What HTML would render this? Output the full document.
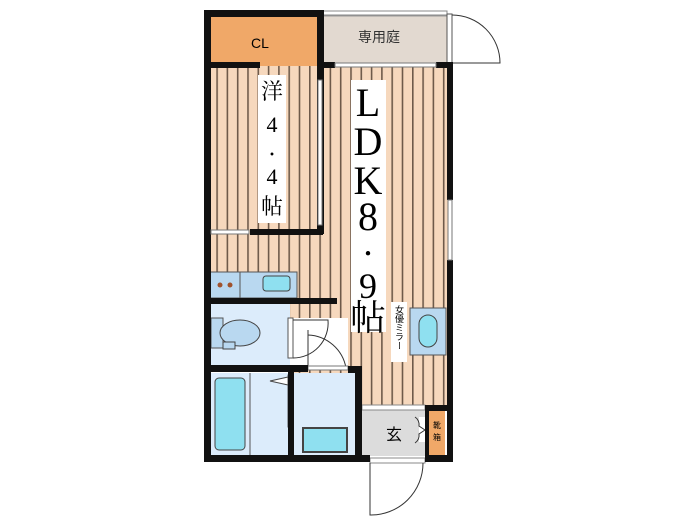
<!DOCTYPE html>
<html><head><meta charset="utf-8"><style>
html,body{margin:0;padding:0;background:#fff;width:700px;height:525px;overflow:hidden}
svg{display:block}
text{font-family:"Liberation Serif","Noto Serif CJK SC",serif}
</style></head><body>
<svg width="700" height="525" viewBox="0 0 700 525" xmlns="http://www.w3.org/2000/svg">
<defs>
<pattern id="fl" x="0" y="0" width="10.3" height="20" patternUnits="userSpaceOnUse">
<rect width="10.3" height="20" fill="#f6d8bd"/>
<rect x="0" width="1.6" height="20" fill="#6e5a4a"/>
</pattern>
</defs>
<rect x="210" y="66" width="240" height="240" fill="url(#fl)"/>
<rect x="288" y="300" width="160" height="110" fill="url(#fl)"/>
<rect x="210" y="16" width="108" height="50" fill="#f0a868"/>
<text x="260" y="48" font-size="14" text-anchor="middle" style="font-family:'Liberation Sans',sans-serif">CL</text>
<rect x="323" y="16" width="124" height="48" fill="#e2d9d0" stroke="#999" stroke-width="1"/>
<rect x="323" y="11" width="124" height="4" fill="#fff" stroke="#888" stroke-width="1"/>
<text x="379" y="42" font-size="14" text-anchor="middle" fill="#333" style="font-family:'Liberation Sans','Noto Sans CJK JP',sans-serif">専用庭</text>
<rect x="447" y="14" width="5" height="50" fill="#fff" stroke="#555"/>
<path d="M452 15 A48 48 0 0 1 500 63 L452 63" fill="none" stroke="#333" stroke-width="1"/>
<rect x="210" y="272" width="87" height="26" fill="#b9d8f0" stroke="#555" stroke-width="1"/>
<line x1="240" y1="272" x2="240" y2="298" stroke="#555"/>
<circle cx="220" cy="285" r="2.5" fill="#a0522d"/><circle cx="230" cy="285" r="2.5" fill="#a0522d"/>
<rect x="263" y="276" width="27" height="15" rx="3" fill="#8fe0f0" stroke="#444"/>
<rect x="210" y="304" width="80" height="62" fill="#dcecfb"/>
<rect x="211" y="318" width="12" height="30" fill="#b9d8f0" stroke="#555"/>
<ellipse cx="240" cy="333" rx="20" ry="13" fill="#b9d8f0" stroke="#444"/>
<rect x="223" y="342" width="12" height="7" fill="#b9d8f0" stroke="#444"/>
<rect x="290" y="318" width="58" height="52" fill="#fff"/>
<rect x="288" y="318" width="5" height="40" fill="#fff" stroke="#555"/>
<path d="M293 320 L328 320 A35 35 0 0 1 293 358" fill="none" stroke="#333"/>
<line x1="308" y1="330" x2="308" y2="368" stroke="#333"/>
<path d="M308 335 A40 40 0 0 1 346 368" fill="none" stroke="#333"/>
<rect x="308" y="366" width="40" height="4" fill="#fff" stroke="#777"/>
<rect x="210" y="373" width="78" height="82" fill="#dcecfb"/>
<line x1="250" y1="373" x2="250" y2="455" stroke="#555"/>
<rect x="215" y="378" width="30" height="72" rx="4" fill="#8fe0f0" stroke="#444"/>
<path d="M288 377 L270 381 L288 385 Z" fill="#fff" stroke="#444"/>
<rect x="288" y="375" width="5" height="52" fill="#fff" stroke="#555"/>
<rect x="294" y="373" width="62" height="82" fill="#dcecfb"/>
<rect x="303" y="428" width="44" height="24" fill="#8fe0f0" stroke="#444" stroke-width="2"/>
<rect x="362" y="410" width="63" height="46" fill="#dcdcdc"/>
<rect x="362" y="405" width="63" height="5" fill="#fff" stroke="#888"/>
<text x="394" y="440" font-size="16" text-anchor="middle" style="font-family:'Liberation Sans','Noto Sans CJK JP',sans-serif">玄</text>
<rect x="419" y="417" width="6" height="25" fill="#fff"/>
<path d="M415 417 A9 9 0 0 1 419 426 L425 430 M415 443 A9 9 0 0 0 419 434 L425 430" fill="none" stroke="#333"/>
<rect x="429" y="410" width="16" height="45" fill="#f0a868"/>
<text x="437" y="428" font-size="8" text-anchor="middle" style="font-family:'Liberation Sans','Noto Sans CJK JP',sans-serif">靴</text>
<text x="437" y="440" font-size="8" text-anchor="middle" style="font-family:'Liberation Sans','Noto Sans CJK JP',sans-serif">箱</text>
<rect x="370" y="458" width="55" height="5" fill="#fff" stroke="#888"/>
<path d="M370 463 L370 515 A52 52 0 0 0 423 463" fill="none" stroke="#333"/>
<rect x="410" y="308" width="36" height="47" fill="#b9d8f0" stroke="#555"/>
<rect x="419" y="315" width="18" height="32" rx="9" fill="#8fe0f0" stroke="#444"/>
<rect x="391" y="302" width="16" height="60" fill="#fff"/>
<text font-size="9" style="font-family:'Liberation Sans','Noto Sans CJK JP',sans-serif" writing-mode="tb" x="399" y="305">女優ミラー</text>
<rect x="258" y="75" width="28" height="148" fill="#fff"/>
<g font-size="22" text-anchor="middle">
<text x="272" y="99">洋</text><text x="272" y="132">4</text><text x="272" y="160" font-size="16">・</text><text x="272" y="184">4</text><text x="272" y="214">帖</text>
</g>
<rect x="351" y="80" width="35" height="252" fill="#fff"/>
<g font-size="40" text-anchor="middle">
<text x="368" y="116">L</text><text x="368" y="155">D</text><text x="368" y="194">K</text><text x="368" y="230">8</text>
</g>
<text x="368" y="262" font-size="24" text-anchor="middle">・</text>
<g font-size="36" text-anchor="middle">
<text x="368" y="298">9</text><text x="368" y="330">帖</text>
</g>
<g fill="#111">
<rect x="204" y="10" width="120" height="7"/>
<rect x="204" y="10" width="7" height="452"/>
<rect x="317" y="10" width="7" height="224"/>
<rect x="210" y="62" width="50" height="6"/>
<rect x="317" y="62" width="18" height="6"/>
<rect x="436" y="62" width="16" height="6"/>
<rect x="447" y="62" width="6" height="138"/>
<rect x="447" y="260" width="6" height="202"/>
<rect x="250" y="229" width="73" height="6"/>
<rect x="204" y="298" width="133" height="6"/>
<rect x="204" y="365" width="104" height="7"/>
<rect x="288" y="365" width="6" height="90"/>
<rect x="348" y="366" width="14" height="7"/>
<rect x="355" y="366" width="7" height="96"/>
<rect x="425" y="405" width="27" height="6"/>
<rect x="425" y="405" width="4" height="57"/>
<rect x="204" y="455" width="166" height="7"/>
<rect x="425" y="455" width="28" height="7"/>
</g>
<rect x="335" y="63" width="101" height="4" fill="#fff" stroke="#777"/>
<rect x="318" y="80" width="4" height="145" fill="#fff" stroke="#777"/>
<rect x="448" y="200" width="4" height="60" fill="#fff" stroke="#777"/>
<rect x="211" y="230" width="38" height="4" fill="#fff" stroke="#777"/>
</svg>
</body></html>
